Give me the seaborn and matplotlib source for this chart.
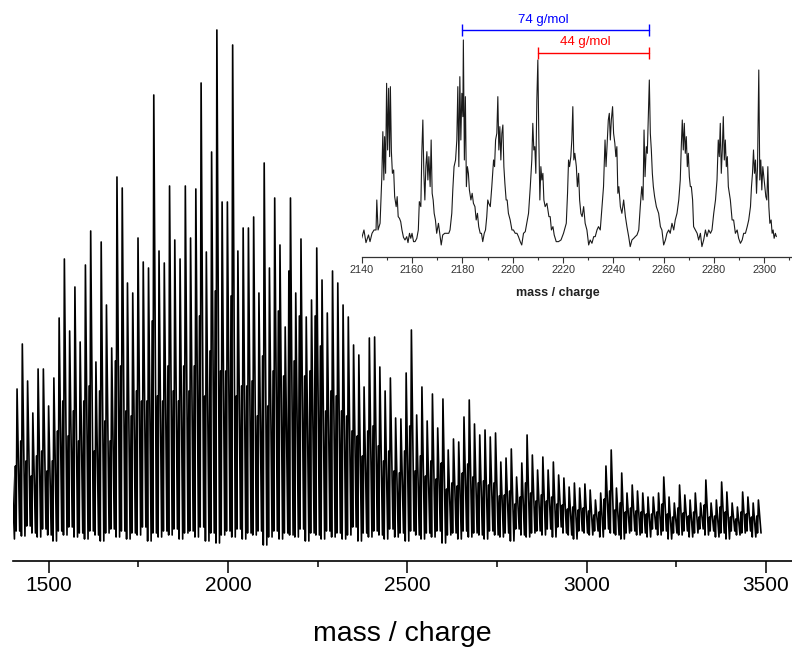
import numpy as np
import pandas as pd
import matplotlib
matplotlib.use("Agg")
import matplotlib.pyplot as plt
from matplotlib.ticker import MultipleLocator
import seaborn as sns

# ---------------- data: main spectrum (cluster apex / side spike / trough) ----------------
main_mz = [
    1396.7, 1411.3, 1426.0, 1440.7, 1455.3, 1470.0, 1484.7, 1499.3, 1514.0, 1528.7, 1543.3, 1558.0,
    1572.7, 1587.3, 1602.0, 1616.7, 1631.3, 1646.0, 1660.7, 1675.3, 1690.0, 1704.7, 1719.3, 1734.0,
    1748.7, 1763.3, 1778.0, 1792.7, 1807.3, 1822.0, 1836.7, 1851.3, 1866.0, 1880.7, 1895.3, 1910.0,
    1924.7, 1939.3, 1954.0, 1968.7, 1983.3, 1998.0, 2012.7, 2027.3, 2042.0, 2056.7, 2071.3, 2086.0,
    2100.7, 2115.3, 2130.0, 2144.7, 2159.3, 2174.0, 2188.7, 2203.3, 2218.0, 2232.7, 2247.3, 2262.0,
    2276.7, 2291.3, 2306.0, 2320.7, 2335.3, 2350.0, 2364.7, 2379.3, 2394.0, 2408.7, 2423.3, 2438.0,
    2452.7, 2467.3, 2482.0, 2496.7, 2511.3, 2526.0, 2540.7, 2555.3, 2570.0, 2584.7, 2599.3, 2614.0,
    2628.7, 2643.3, 2658.0, 2672.7, 2687.3, 2702.0, 2716.7, 2731.3, 2746.0, 2760.7, 2775.3, 2790.0,
    2804.7, 2819.3, 2834.0, 2848.7, 2863.3, 2878.0, 2892.7, 2907.3, 2922.0, 2936.7, 2951.3, 2966.0,
    2980.7, 2995.3, 3010.0, 3024.7, 3039.3, 3054.0, 3068.7, 3083.3, 3098.0, 3112.7, 3127.3, 3142.0,
    3156.7, 3171.3, 3186.0, 3200.7, 3215.3, 3230.0, 3244.7, 3259.3, 3274.0, 3288.7, 3303.3, 3318.0,
    3332.7, 3347.3, 3362.0, 3376.7, 3391.3, 3406.0, 3420.7, 3435.3, 3450.0, 3464.7, 3479.3,
]
main_apex = [
    95, 172, 217, 180, 148, 192, 192, 155, 183, 243,
    302, 230, 274, 219, 296, 330, 199, 319, 256, 213,
    384, 373, 278, 268, 323, 299, 293, 466, 310, 298,
    375, 321, 302, 375, 323, 372, 478, 309, 409, 531,
    359, 359, 516, 310, 333, 333, 344, 268, 398, 293,
    363, 316, 234, 363, 268, 322, 244, 261, 313, 281,
    248, 290, 278, 256, 244, 216, 206, 174, 223, 224,
    194, 170, 183, 143, 142, 188, 231, 146, 174, 140,
    167, 133, 162, 111, 122, 119, 144, 161, 137, 126,
    131, 124, 128, 99, 103, 112, 84, 98, 126, 106,
    91, 104, 91, 99, 86, 83, 74, 78, 73, 77,
    71, 61, 68, 95, 111, 73, 88, 68, 76, 70,
    68, 64, 64, 68, 84, 64, 58, 76, 66, 61,
    68, 58, 81, 58, 61, 79, 69, 58, 54, 69,
    64, 58, 61,
]
main_side = [
    60, 95, 120, 100, 85, 105, 110, 90, 100, 130,
    160, 125, 150, 120, 160, 175, 110, 170, 140, 120,
    200, 195, 150, 145, 170, 160, 160, 240, 165, 160,
    195, 170, 160, 195, 170, 195, 245, 165, 210, 270,
    190, 190, 265, 165, 175, 175, 180, 145, 205, 155,
    190, 250, 185, 290, 200, 245, 185, 190, 245, 215,
    150, 170, 165, 150, 145, 130, 125, 105, 130, 135,
    115, 100, 110, 90, 88, 110, 135, 90, 105, 85,
    100, 82, 98, 72, 78, 75, 88, 97, 84, 78,
    80, 76, 78, 65, 66, 70, 57, 64, 78, 68,
    60, 66, 60, 64, 57, 56, 52, 54, 51, 53,
    50, 46, 49, 62, 70, 51, 58, 49, 53, 50,
    49, 47, 47, 49, 57, 47, 44, 53, 48, 45,
    49, 44, 56, 44, 45, 54, 49, 44, 42, 49,
    47, 44, 45,
]
main_valley = [
    22, 30, 25, 35, 28, 24, 32, 26, 20, 30,
    26, 34, 24, 28, 22, 30, 26, 20, 28, 32,
    24, 30, 22, 28, 26, 34, 20, 28, 24, 30,
    26, 32, 22, 28, 30, 24, 34, 20, 28, 18,
    26, 30, 24, 32, 22, 28, 26, 30, 16, 24,
    30, 22, 28, 26, 24, 32, 20, 28, 26, 22,
    30, 24, 28, 22, 26, 34, 20, 28, 24, 30,
    26, 22, 32, 24, 28, 20, 30, 26, 22, 28,
    24, 30, 18, 26, 28, 22, 30, 24, 28, 26,
    22, 30, 26, 24, 28, 20, 32, 26, 24, 28,
    30, 26, 32, 24, 34, 28, 26, 22, 30, 28,
    26, 30, 24, 32, 28, 26, 22, 28, 30, 26,
    28, 24, 32, 26, 30, 22, 28, 26, 30, 24,
    28, 32, 26, 30, 24, 28, 22, 30, 26, 28,
    30, 24, 28,
]

# ---------------- data: inset (zoomed region 2140-2305) ----------------
inset_mz = [
    2140.0, 2140.9, 2141.7, 2142.7, 2143.3, 2144.1, 2144.9, 2145.7, 2146.0, 2146.5, 2147.3, 2148.0,
    2148.4, 2148.8, 2149.1, 2149.5, 2149.9, 2150.3, 2150.7, 2151.1, 2151.4, 2151.8, 2152.2, 2152.7,
    2153.1, 2153.7, 2154.1, 2154.5, 2155.0, 2155.5, 2156.0, 2156.6, 2157.2, 2157.9, 2158.4, 2159.0,
    2159.5, 2160.0, 2160.6, 2161.2, 2161.9, 2162.5, 2162.9, 2163.5, 2163.9, 2164.3, 2164.7, 2165.1,
    2165.5, 2165.9, 2166.3, 2166.7, 2167.2, 2167.6, 2168.0, 2168.4, 2168.8, 2169.3, 2169.8, 2170.5,
    2171.0, 2171.6, 2172.2, 2173.0, 2173.8, 2174.6, 2175.1, 2175.8, 2176.2, 2176.7, 2177.3, 2177.8,
    2178.2, 2178.6, 2179.0, 2179.4, 2179.8, 2180.2, 2180.4, 2180.8, 2181.2, 2181.6, 2182.0, 2182.4,
    2182.8, 2183.4, 2183.9, 2184.4, 2185.0, 2185.5, 2186.0, 2186.5, 2187.1, 2187.6, 2188.1, 2188.7,
    2189.2, 2189.7, 2190.1, 2190.5, 2191.1, 2191.7, 2192.4, 2192.8, 2193.2, 2193.7, 2194.1, 2194.5,
    2194.9, 2195.3, 2195.7, 2196.1, 2196.5, 2196.9, 2197.4, 2197.8, 2198.3, 2199.0, 2199.7, 2200.3,
    2201.0, 2201.7, 2202.3, 2203.0, 2203.6, 2204.3, 2205.0, 2205.6, 2206.3, 2207.0, 2207.6, 2208.0,
    2208.4, 2208.8, 2209.2, 2209.6, 2210.0, 2210.4, 2210.8, 2211.2, 2211.6, 2212.0, 2212.4, 2212.9,
    2213.6, 2214.4, 2214.9, 2215.4, 2216.0, 2216.5, 2217.3, 2218.2, 2219.2, 2220.2, 2221.3, 2221.8,
    2222.2, 2222.6, 2223.1, 2223.5, 2223.9, 2224.3, 2224.7, 2225.3, 2225.7, 2226.2, 2226.6, 2227.1,
    2227.6, 2228.2, 2228.8, 2229.5, 2230.2, 2230.8, 2231.5, 2232.2, 2232.8, 2233.5, 2234.1, 2234.8,
    2235.5, 2236.1, 2236.7, 2237.1, 2237.6, 2238.0, 2238.4, 2238.8, 2239.2, 2239.7, 2240.1, 2240.6,
    2241.0, 2241.4, 2241.8, 2242.2, 2242.8, 2243.4, 2244.1, 2244.8, 2245.4, 2246.1, 2246.7, 2247.4,
    2248.1, 2248.7, 2249.4, 2250.1, 2250.7, 2251.3, 2251.8, 2252.2, 2252.6, 2253.1, 2253.5, 2253.9,
    2254.3, 2254.7, 2255.1, 2255.5, 2255.9, 2256.4, 2257.1, 2258.0, 2258.7, 2259.3, 2260.0, 2260.7,
    2261.3, 2262.0, 2262.6, 2263.3, 2264.0, 2264.6, 2265.3, 2266.0, 2266.6, 2267.0, 2267.4, 2267.8,
    2268.2, 2268.6, 2269.0, 2269.4, 2269.8, 2270.2, 2270.6, 2271.0, 2271.5, 2271.9, 2272.6, 2273.3,
    2273.9, 2274.6, 2275.2, 2275.9, 2276.6, 2277.2, 2277.9, 2278.6, 2279.2, 2279.9, 2280.6, 2281.2,
    2281.7, 2282.1, 2282.5, 2282.9, 2283.3, 2283.7, 2284.1, 2284.5, 2284.9, 2285.3, 2285.7, 2286.1,
    2286.5, 2287.2, 2287.8, 2288.5, 2289.2, 2289.8, 2290.5, 2291.2, 2291.8, 2292.5, 2293.2, 2293.8,
    2294.5, 2294.9, 2295.3, 2295.7, 2296.1, 2296.5, 2296.9, 2297.3, 2297.8, 2298.2, 2298.6, 2299.0,
    2299.4, 2299.8, 2300.2, 2300.6, 2301.0, 2301.4, 2301.8, 2302.2, 2302.7, 2303.1, 2303.5, 2303.9,
    2304.4, 2304.8,
]
inset_int = [
    57, 82, 44, 67, 47, 72, 82, 82, 172, 82, 102, 242,
    377, 232, 362, 252, 522, 322, 507, 302, 512, 317, 252, 262,
    182, 152, 182, 122, 117, 107, 82, 60, 52, 62, 44, 72,
    57, 72, 47, 47, 57, 82, 167, 152, 317, 412, 252, 172,
    272, 317, 232, 302, 212, 352, 192, 172, 132, 112, 72, 102,
    72, 37, 67, 72, 72, 72, 82, 132, 202, 272, 292, 352,
    512, 272, 542, 352, 492, 422, 652, 292, 482, 212, 272, 252,
    202, 172, 192, 162, 152, 112, 132, 92, 72, 72, 47, 72,
    82, 122, 172, 162, 152, 212, 292, 272, 352, 372, 482, 322,
    392, 292, 372, 397, 272, 222, 172, 172, 132, 112, 82, 82,
    72, 72, 62, 47, 37, 72, 77, 102, 132, 212, 292, 402,
    322, 332, 252, 472, 592, 352, 172, 272, 232, 252, 172, 152,
    162, 122, 122, 82, 92, 67, 47, 47, 52, 72, 102, 192,
    292, 272, 302, 352, 452, 292, 312, 272, 212, 252, 172, 132,
    122, 152, 102, 82, 37, 52, 42, 62, 62, 82, 92, 82,
    152, 212, 352, 272, 352, 412, 432, 352, 412, 452, 372, 342,
    302, 332, 192, 212, 152, 132, 172, 122, 92, 62, 32, 52,
    57, 62, 67, 82, 152, 212, 172, 382, 242, 332, 312, 417,
    532, 372, 322, 252, 212, 182, 152, 132, 92, 82, 37, 52,
    72, 82, 72, 102, 82, 112, 132, 172, 232, 332, 412, 322,
    402, 312, 362, 272, 312, 242, 212, 212, 172, 92, 82, 72,
    52, 72, 32, 52, 82, 62, 82, 72, 82, 132, 172, 232,
    352, 302, 402, 252, 322, 422, 292, 352, 272, 302, 212, 192,
    172, 112, 112, 72, 82, 57, 42, 52, 72, 72, 92, 112,
    152, 212, 252, 322, 252, 292, 192, 272, 562, 232, 292, 202,
    272, 242, 212, 182, 172, 272, 152, 102, 112, 72, 82, 57,
    72, 62,
]

# annotation brackets in the inset
bracket_labels = ["74 g/mol", "44 g/mol"]
bracket_start = [2180, 2210]
bracket_end = [2254, 2254]
bracket_level = [682, 612]
bracket_text_x = [2212, 2229]
bracket_text_y = [712, 645]
bracket_colors = ["#0000ff", "#ff0000"]

main_ticks = [1500, 2000, 2500, 3000, 3500]

# ---------------- build main trace ----------------
xs, ys = [], []
for m, a, s, v in zip(main_mz, main_apex, main_side, main_valley):
    xs += [m - 4.5, m - 2.5, m, m + 7.3]
    ys += [s, v, a, v]
main_df = pd.DataFrame({"mz": xs, "intensity": ys})
inset_df = pd.DataFrame({"mz": inset_mz, "intensity": inset_int})

sns.set_style("white")
plt.rcParams["font.family"] = ["Liberation Sans", "DejaVu Sans"]

fig = plt.figure(figsize=(7.92, 6.48), dpi=100)

# main axes
ax = fig.add_axes([13 / 792, 1 - 561 / 648, 779 / 792, 561 / 648])
ax.patch.set_alpha(0)
sns.lineplot(data=main_df, x="mz", y="intensity", ax=ax, color="black",
             lw=1.2, sort=False, estimator=None)
ax.set_xlim(1400, 3573)
ax.set_ylim(0, 561)
for side in ["left", "right", "top"]:
    ax.spines[side].set_visible(False)
ax.spines["bottom"].set_linewidth(1.2)
ax.spines["bottom"].set_color("black")
ax.set_yticks([])
ax.set_ylabel("")
ax.set_xticks(main_ticks)
ax.xaxis.set_minor_locator(MultipleLocator(250))
ax.tick_params(axis="x", which="major", bottom=True, direction="out",
               length=8.6, width=1.1, labelsize=15, pad=2,
               colors="black", labelcolor="black")
ax.tick_params(axis="x", which="minor", bottom=True, direction="out",
               length=4.3, width=1.1, colors="black")
ax.set_xlabel("mass / charge", fontsize=20.5, labelpad=19, color="black")

# inset axes
ax2 = fig.add_axes([361.7 / 792, 1 - 257.3 / 648, (792 - 361.7) / 792, 257.3 / 648])
ax2.patch.set_alpha(0)
sns.lineplot(data=inset_df, x="mz", y="intensity", ax=ax2, color="#1a1a1a",
             lw=0.8, sort=False, estimator=None)
ax2.set_xlim(2140, 2311)
ax2.set_ylim(0, 772)
for side in ["left", "right", "top"]:
    ax2.spines[side].set_visible(False)
ax2.spines["bottom"].set_linewidth(0.9)
ax2.spines["bottom"].set_color("#333333")
ax2.set_yticks([])
ax2.set_ylabel("")
ax2.xaxis.set_major_locator(MultipleLocator(20))
ax2.xaxis.set_minor_locator(MultipleLocator(10))
ax2.tick_params(axis="x", which="major", bottom=True, direction="out",
                length=4, width=0.8, labelsize=7.8, pad=1.5, colors="#333333")
ax2.tick_params(axis="x", which="minor", bottom=True, direction="out",
                length=2.4, width=0.8, colors="#333333")
ax2.set_xlabel("mass / charge", fontsize=9, fontweight="bold", color="#222222")
ax2.xaxis.set_label_coords(0.456, -0.115)

for lab, x0, x1, lvl, tx, ty, col in zip(bracket_labels, bracket_start, bracket_end,
                                         bracket_level, bracket_text_x, bracket_text_y,
                                         bracket_colors):
    ax2.plot([x0, x1], [lvl, lvl], color=col, lw=1.0, marker="|",
             markersize=8.6, markeredgewidth=1.0)
    ax2.text(tx, ty, lab, color=col, fontsize=9.5, ha="center", va="center")

fig.savefig("out.png", dpi=100)
